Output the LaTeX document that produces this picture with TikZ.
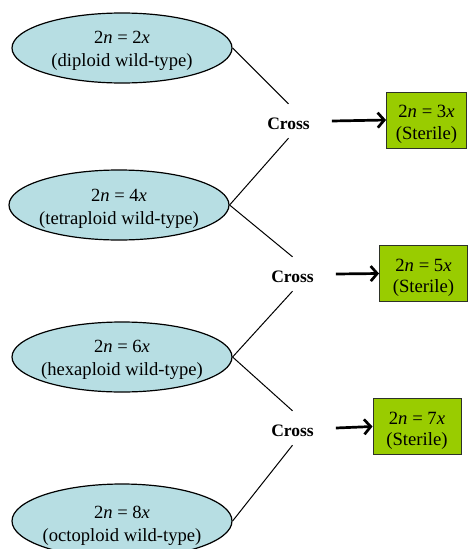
\documentclass[tikz,border=0pt]{standalone}
\usepackage{fontspec}
\setmainfont{Liberation Serif}
\usetikzlibrary{shapes.geometric,arrows.meta}
\definecolor{parentfill}{RGB}{183,222,227}
\definecolor{sterilefill}{RGB}{153,204,0}
\definecolor{sterileline}{RGB}{45,50,40}
% strut that lowers a two-line block inside its shape
\newcommand{\lowerstrut}[1]{\rule{0pt}{#1}}
\tikzset{
  parent/.style={ellipse, draw=black, line width=1.2pt, fill=parentfill,
    minimum width=220pt, minimum height=70pt, inner xsep=-30pt, inner ysep=0pt,
    align=center, font=\fontsize{18.6}{23}\selectfont},
  sterile/.style={rectangle, draw=sterileline, line width=1pt, fill=sterilefill,
    minimum height=56pt, inner sep=0pt, align=center,
    font=\fontsize{18.7}{21.5}\selectfont},
  crossing/.style={anchor=base, inner xsep=22pt, inner ysep=0pt,
    text height=25pt, text depth=9pt, font=\fontsize{17.5}{20}\selectfont\bfseries},
  link/.style={draw=black, line width=1pt},
  result/.style={draw=black, line width=2.7pt, -{Straight Barb[length=6.5pt,width=15pt]}}
}
\begin{document}
\begin{tikzpicture}[x=1pt,y=-1pt]
  \useasboundingbox (0,0) rectangle (470,549);
  \clip (0,0) rectangle (470,549);

  % parent lines
  \node[parent] (e1) at (122,48)  {\lowerstrut{18pt}2\textit{n} = 2\textit{x}\\(diploid wild-type)};
  \node[parent] (e2) at (119,205) {\lowerstrut{20pt}2\textit{n} = 4\textit{x}\\(tetraploid wild-type)};
  \node[parent] (e3) at (122,357) {\lowerstrut{18pt}2\textit{n} = 6\textit{x}\\(hexaploid wild-type)};
  \node[parent, minimum height=74pt] (e4) at (122,521) {\lowerstrut{22pt}2\textit{n} = 8\textit{x}\\(octoploid wild-type)};

  % crosses
  \node[crossing] (c1) at (288.5,129) {Cross};
  \node[crossing] (c2) at (292.5,282) {Cross};
  \node[crossing] (c3) at (292.5,436) {Cross};

  % sterile offspring
  \node[sterile, minimum width=80pt] (b1) at (426.5,120)   {\lowerstrut{21pt}2\textit{n} = 3\textit{x}\\(Sterile)};
  \node[sterile, minimum width=88pt] (b2) at (423.5,273.5) {\lowerstrut{21pt}2\textit{n} = 5\textit{x}\\(Sterile)};
  \node[sterile, minimum width=88pt] (b3) at (417,426.5)   {\lowerstrut{21pt}2\textit{n} = 7\textit{x}\\(Sterile)};

  % parents joined to their cross
  \draw[link] (e1.east) -- (c1.north);
  \draw[link] (c1.south) -- (e2.east);
  \draw[link] (e2.east) -- (c2.north);
  \draw[link] (c2.south) -- (e3.east);
  \draw[link] (e3.east) -- (c3.north);
  \draw[link] (c3.south) -- (e4.east);

  % outcome arrows
  \draw[result] (c1.east) -- (b1.west);
  \draw[result] (c2.east) -- (b2.west);
  \draw[result] (c3.east) -- (b3.west);
\end{tikzpicture}
\end{document}
